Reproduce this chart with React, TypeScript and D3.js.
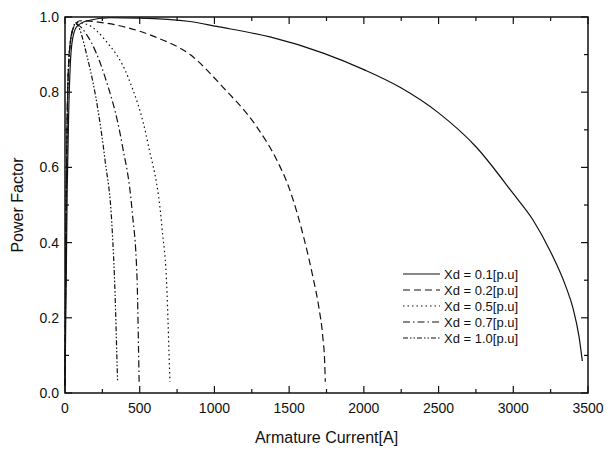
import React from "react";
import * as d3 from "d3";

const xTicks = [0, 500, 1000, 1500, 2000, 2500, 3000, 3500];
const yTicks = [0.0, 0.2, 0.4, 0.6, 0.8, 1.0];

const seriesNames = ["Xd = 0.1[p.u]", "Xd = 0.2[p.u]", "Xd = 0.5[p.u]", "Xd = 0.7[p.u]", "Xd = 1.0[p.u]"];

const current01 = [0, 8, 15, 25, 35, 50, 80, 150, 300, 500, 837, 1015, 1372, 1728, 2000, 2242, 2500, 2750, 3000, 3132, 3250, 3350, 3400, 3440, 3462];
const pf01 = [0.02, 0.3, 0.55, 0.75, 0.87, 0.94, 0.975, 0.99, 0.998, 0.997, 0.988, 0.975, 0.947, 0.904, 0.86, 0.813, 0.745, 0.655, 0.53, 0.46, 0.375, 0.285, 0.225, 0.15, 0.085];

const current02 = [0, 5, 12, 20, 35, 60, 100, 268, 603, 837, 1058, 1285, 1418, 1500, 1600, 1660, 1700, 1725, 1738, 1742];
const pf02 = [0.02, 0.35, 0.65, 0.83, 0.93, 0.975, 0.99, 0.984, 0.947, 0.9, 0.813, 0.707, 0.619, 0.545, 0.41, 0.307, 0.225, 0.15, 0.08, 0.03];

const current05 = [0, 5, 12, 20, 35, 55, 80, 150, 268, 422, 555, 649, 683, 695, 702];
const pf05 = [0.02, 0.35, 0.65, 0.83, 0.93, 0.97, 0.985, 0.98, 0.939, 0.84, 0.664, 0.44, 0.264, 0.12, 0.03];

const current07 = [0, 5, 12, 20, 35, 55, 75, 150, 268, 381, 449, 482, 492, 496];
const pf07 = [0.02, 0.35, 0.65, 0.83, 0.93, 0.97, 0.98, 0.95, 0.84, 0.664, 0.485, 0.307, 0.12, 0.03];

const current10 = [0, 5, 12, 20, 35, 55, 68, 154, 221, 268, 315, 335, 348, 352];
const pf10 = [0.02, 0.35, 0.65, 0.83, 0.93, 0.97, 0.985, 0.885, 0.752, 0.619, 0.44, 0.264, 0.085, 0.03];

const dashes = ["", "7,4", "1.5,3", "7,3,1.5,3", "5,2,1.5,2,1.5,2"];

export default function App() {
  const W = 611, H = 452;
  const left = 65, right = 588, top = 17, bottom = 393;
  const x = d3.scaleLinear().domain([0, 3500]).range([left, right]);
  const y = d3.scaleLinear().domain([0, 1]).range([bottom, top]);
  const allCur = [current01, current02, current05, current07, current10];
  const allPf = [pf01, pf02, pf05, pf07, pf10];
  const line = d3.line<[number, number]>().x(d => x(d[0])).y(d => y(d[1])).curve(d3.curveMonotoneX);
  const font = "Liberation Sans, Arial, sans-serif";
  const xMinor = d3.range(0, 3501, 250);
  const yMinor = d3.range(0, 1.001, 0.1);
  const legX = 403, legY0 = 274, legDy = 16;
  return (
    <svg width={W} height={H} style={{ position: "absolute", left: 0, top: 0, background: "#fff" }}>
      <rect x={0} y={0} width={W} height={H} fill="#fff" />
      {allCur.map((cur, i) => (
        <path key={i} d={line(cur.map((c, j) => [c, allPf[i][j]]) as [number, number][]) || ""}
          fill="none" stroke="#111" strokeWidth={1.2} strokeDasharray={dashes[i]} />
      ))}
      <rect x={left} y={top} width={right - left} height={bottom - top} fill="none" stroke="#111" strokeWidth={1.5} />
      {xMinor.map((v, i) => {
        const len = i % 2 === 0 ? 7 : 4;
        return (
          <g key={"xt" + i}>
            <line x1={x(v)} x2={x(v)} y1={bottom} y2={bottom - len} stroke="#111" strokeWidth={1.2} />
            <line x1={x(v)} x2={x(v)} y1={top} y2={top + len} stroke="#111" strokeWidth={1.2} />
          </g>
        );
      })}
      {yMinor.map((v, i) => {
        const len = i % 2 === 0 ? 7 : 4;
        return (
          <g key={"yt" + i}>
            <line x1={left} x2={left + len} y1={y(v)} y2={y(v)} stroke="#111" strokeWidth={1.2} />
            <line x1={right} x2={right - len} y1={y(v)} y2={y(v)} stroke="#111" strokeWidth={1.2} />
          </g>
        );
      })}
      {xTicks.map(v => (
        <text key={"xl" + v} x={x(v)} y={bottom + 20} textAnchor="middle" fontFamily={font} fontSize={14} fill="#111">{v}</text>
      ))}
      {yTicks.map(v => (
        <text key={"yl" + v} x={left - 6} y={y(v) + 5} textAnchor="end" fontFamily={font} fontSize={14} fill="#111">{v.toFixed(1)}</text>
      ))}
      <text x={(left + right) / 2} y={443} textAnchor="middle" fontFamily={font} fontSize={16} fill="#111">Armature Current[A]</text>
      <text transform={`translate(23,${(top + bottom) / 2}) rotate(-90)`} textAnchor="middle" fontFamily={font} fontSize={16} fill="#111">Power Factor</text>
      {seriesNames.map((n, i) => (
        <g key={"lg" + i}>
          <line x1={legX} x2={legX + 37} y1={legY0 + i * legDy} y2={legY0 + i * legDy} stroke="#111" strokeWidth={1.2} strokeDasharray={dashes[i]} />
          <text x={legX + 41} y={legY0 + i * legDy + 4.5} fontFamily={font} fontSize={13} fill="#111">{n}</text>
        </g>
      ))}
    </svg>
  );
}
